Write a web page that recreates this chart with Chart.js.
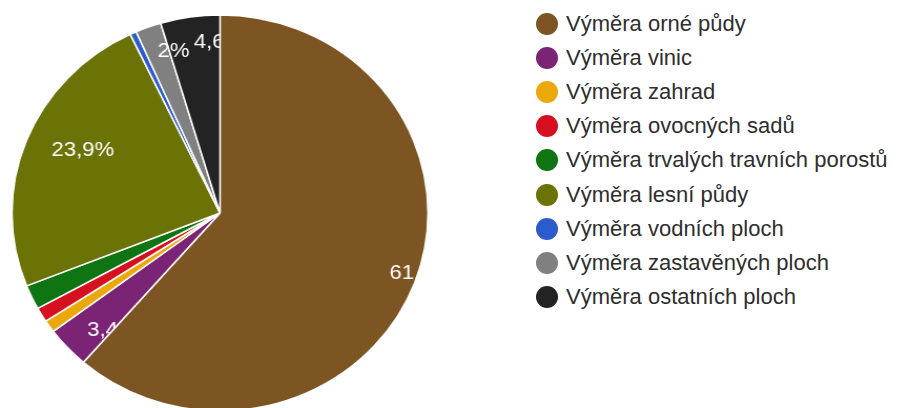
<!DOCTYPE html>
<html>
<head>
<meta charset="utf-8">
<script src="https://cdn.jsdelivr.net/npm/chart.js@4.4.1/dist/chart.umd.min.js"></script>
<style>
  html, body { margin: 0; padding: 0; background: #fff; overflow: hidden; }
  /* the reference pie is a little wider than tall, so the chart box is stretched sideways */
  #wrap { position: absolute; left: 0; top: 0; width: 420px; height: 440px; transform: scaleX(1.0505); transform-origin: 0 0; }
  #legend { position: absolute; left: 536px; top: 7px; font-family: "Liberation Sans", Arial, sans-serif; font-size: 22px; color: #2e2e2e; }
  .row { display: flex; align-items: center; height: 34.1px; line-height: 34px; white-space: nowrap; }
  .dot { width: 22px; height: 22px; border-radius: 50%; margin-right: 8px; flex: none; }
</style>
</head>
<body>
<div id="wrap"><canvas id="landChart"></canvas></div>
<div id="legend"></div>
<script>
const labels = [
  "Výměra orné půdy",
  "Výměra vinic",
  "Výměra zahrad",
  "Výměra ovocných sadů",
  "Výměra trvalých travních porostů",
  "Výměra lesní půdy",
  "Výměra vodních ploch",
  "Výměra zastavěných ploch",
  "Výměra ostatních ploch",
];
const shares = [61.4, 3.4, 1.0, 1.2, 2.0, 23.9, 0.5, 2.0, 4.6];
const sliceText = ["61,4%", "3,4%", "", "", "", "23,9%", "", "2%", "4,6%"];
const colors = ["#7c5523", "#7b2375", "#eba80d", "#d6101e", "#0f7512", "#6b7306", "#2b5bcd", "#808080", "#232323"];

// legend (html)
const legend = document.getElementById("legend");
labels.forEach((name, i) => {
  const row = document.createElement("div");
  row.className = "row";
  row.innerHTML = '<span class="dot" style="background:' + colors[i] + '"></span><span>' + name + "</span>";
  legend.appendChild(row);
});

// slice labels: each one is hidden where an earlier slice sits (like the slices were painted over them)
const sliceLabels = {
  id: "sliceLabels",
  afterDatasetsDraw(chart) {
    const ctx = chart.ctx;
    const arcs = chart.getDatasetMeta(0).data;
    const lastEnd = arcs[arcs.length - 1].endAngle;
    arcs.forEach((arc, i) => {
      const text = sliceText[i];
      if (!text) return;
      const { x, y, startAngle, endAngle, outerRadius } = arc.getProps(["x", "y", "startAngle", "endAngle", "outerRadius"], true);
      const mid = (startAngle + endAngle) / 2;
      const d = outerRadius * 0.87;
      ctx.save();
      ctx.beginPath();
      ctx.moveTo(x, y);
      ctx.arc(x, y, outerRadius, startAngle, lastEnd);
      ctx.closePath();
      ctx.clip();
      ctx.fillStyle = "#fff";
      ctx.font = '21px "Liberation Sans", Arial, sans-serif';
      ctx.textAlign = "left";
      ctx.textBaseline = "middle";
      ctx.fillText(text, x + Math.cos(mid) * d, y + Math.sin(mid) * d);
      ctx.restore();
    });
  },
};

const landCtx = document.getElementById("landChart").getContext("2d");
const landChart = new Chart(landCtx, {
  type: "pie",
  data: {
    labels: labels,
    datasets: [
      {
        data: shares,
        backgroundColor: colors,
        borderColor: "#fff",
        borderWidth: 1.5,
      },
    ],
  },
  options: {
    responsive: true,
    maintainAspectRatio: false,
    animation: false,
    radius: 198,
    layout: {
      padding: { left: 0, top: 0, right: 1.2, bottom: 14 },
    },
    plugins: {
      legend: { display: false },
      tooltip: { enabled: false },
    },
  },
  plugins: [sliceLabels],
});
</script>
</body>
</html>
